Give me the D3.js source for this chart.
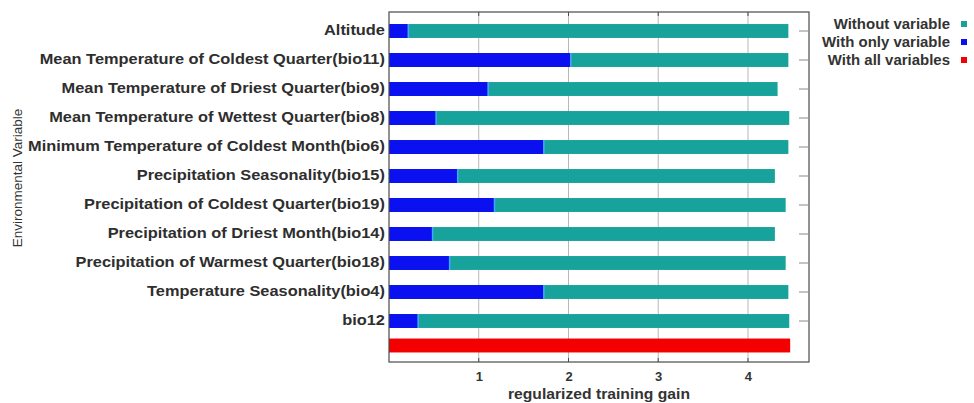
<!DOCTYPE html>
<html>
<head>
<meta charset="utf-8">
<script src="https://cdn.jsdelivr.net/npm/d3@7"></script>
<style>
  html, body { margin: 0; padding: 0; background: #fff; }
  svg { display: block; }
  text { font-family: "Liberation Sans", Arial, sans-serif; }
</style>
</head>
<body>
<svg id="chart" width="974" height="403"></svg>
<script>
// Jackknife of regularized training gain per environmental variable
const variables = [
  "Altitude",
  "Mean Temperature of Coldest Quarter(bio11)",
  "Mean Temperature of Driest Quarter(bio9)",
  "Mean Temperature of Wettest Quarter(bio8)",
  "Minimum Temperature of Coldest Month(bio6)",
  "Precipitation Seasonality(bio15)",
  "Precipitation of Coldest Quarter(bio19)",
  "Precipitation of Driest Month(bio14)",
  "Precipitation of Warmest Quarter(bio18)",
  "Temperature Seasonality(bio4)",
  "bio12"
];
const withoutVariable = [4.45, 4.45, 4.33, 4.46, 4.45, 4.30, 4.42, 4.30, 4.42, 4.45, 4.46];
const withOnlyVariable = [0.21, 2.02, 1.10, 0.52, 1.72, 0.76, 1.17, 0.48, 0.67, 1.72, 0.32];
const withAllVariables = 4.47;
const xTicks = [1, 2, 3, 4];
const legendLabels = ["Without variable", "With only variable", "With all variables"];

const colors = { without: "#17a39b", only: "#0a10f0", all: "#f40000" };

const svg = d3.select("#chart");
const plot = { left: 389, right: 809, top: 12, bottom: 362 };

const x = d3.scaleLinear().domain([0, 4.68]).range([plot.left, plot.right]);
const y = d3.scaleBand()
  .domain(variables)
  .range([plot.top + 4.5, plot.bottom - 26.5])
  .paddingInner(0.52)
  .paddingOuter(0.26);
const barH = y.bandwidth();
const allRowCenter = plot.bottom - 16.5;

// grid lines
svg.append("g").selectAll("line").data(xTicks).join("line")
  .attr("x1", d => x(d)).attr("x2", d => x(d))
  .attr("y1", plot.top).attr("y2", plot.bottom)
  .attr("stroke", "#b8b8b8").attr("stroke-width", 1);

// bars
const rows = svg.append("g").selectAll("g").data(variables).join("g");
rows.append("rect")
  .attr("x", x(0)).attr("y", d => y(d))
  .attr("width", (d, i) => x(withoutVariable[i]) - x(0))
  .attr("height", barH)
  .attr("fill", colors.without);
rows.append("rect")
  .attr("x", x(0)).attr("y", d => y(d))
  .attr("width", (d, i) => x(withOnlyVariable[i]) - x(0))
  .attr("height", barH)
  .attr("fill", colors.only);
rows.append("line")
  .attr("x1", (d, i) => x(withOnlyVariable[i]) + 0.5)
  .attr("x2", (d, i) => x(withOnlyVariable[i]) + 0.5)
  .attr("y1", d => y(d)).attr("y2", d => y(d) + barH)
  .attr("stroke", "#45a6ff").attr("stroke-width", 1.5);

svg.append("rect")
  .attr("x", x(0)).attr("y", allRowCenter - barH / 2)
  .attr("width", x(withAllVariables) - x(0))
  .attr("height", barH)
  .attr("fill", colors.all);

// frame
svg.append("rect")
  .attr("x", plot.left).attr("y", plot.top)
  .attr("width", plot.right - plot.left).attr("height", plot.bottom - plot.top)
  .attr("fill", "none").attr("stroke", "#4a4a4a").attr("stroke-width", 1.2);

// inner ticks on top and bottom edges
const tickG = svg.append("g").attr("stroke", "#4a4a4a").attr("stroke-width", 1);
tickG.selectAll(".tb").data(xTicks).join("line").attr("class", "tb")
  .attr("x1", d => x(d)).attr("x2", d => x(d))
  .attr("y1", plot.bottom).attr("y2", plot.bottom - 4);
tickG.selectAll(".tt").data(xTicks).join("line").attr("class", "tt")
  .attr("x1", d => x(d)).attr("x2", d => x(d))
  .attr("y1", plot.top).attr("y2", plot.top + 4);
// ticks on the right edge at each variable row
tickG.selectAll(".tr").data(variables).join("line").attr("class", "tr")
  .attr("x1", plot.right).attr("x2", plot.right - 10)
  .attr("y1", d => y(d) + barH / 2).attr("y2", d => y(d) + barH / 2)
  .attr("stroke", "#8a8a8a");

// x axis labels
const xAxis = d3.axisBottom(x).tickValues(xTicks).tickFormat(d3.format("d")).tickSize(0).tickPadding(10);
const xg = svg.append("g").attr("transform", `translate(0,${plot.bottom})`).call(xAxis);
xg.select(".domain").remove();
xg.selectAll("text")
  .attr("font-size", 13).attr("font-weight", "bold").attr("fill", "#333")
  .attr("font-family", "'Liberation Sans', Arial, sans-serif");

svg.append("text")
  .attr("transform", `translate(${(plot.left + plot.right) / 2},399) scale(1.12,1)`)
  .attr("text-anchor", "middle")
  .attr("font-size", 14).attr("font-weight", "bold").attr("fill", "#333")
  .text("regularized training gain");

// variable labels (wide lettering)
const yAxis = d3.axisLeft(y).tickSize(0).tickPadding(3.5);
const yg = svg.append("g").attr("transform", `translate(${plot.left},0) scale(1.17,1)`).call(yAxis);
yg.select(".domain").remove();
yg.selectAll("text")
  .attr("font-size", 14).attr("font-weight", "bold").attr("fill", "#2e2e2e")
  .attr("font-family", "'Liberation Sans', Arial, sans-serif");

svg.append("text")
  .attr("transform", "translate(22,178) rotate(-90)")
  .attr("text-anchor", "middle")
  .attr("font-size", 13.5).attr("fill", "#333")
  .text("Environmental Variable");

// legend
const legendColors = [colors.without, colors.only, colors.all];
const lg = svg.append("g").selectAll("g").data(legendLabels).join("g")
  .attr("transform", (d, i) => `translate(0,${24 + i * 18})`);
lg.append("text")
  .attr("transform", "translate(950,0) scale(1.07,1)")
  .attr("dy", "0.35em")
  .attr("text-anchor", "end")
  .attr("font-size", 14).attr("font-weight", "bold").attr("fill", "#333")
  .text(d => d);
lg.append("rect")
  .attr("x", 961).attr("y", -3).attr("width", 6).attr("height", 6)
  .attr("fill", (d, i) => legendColors[i]);
</script>
</body>
</html>
